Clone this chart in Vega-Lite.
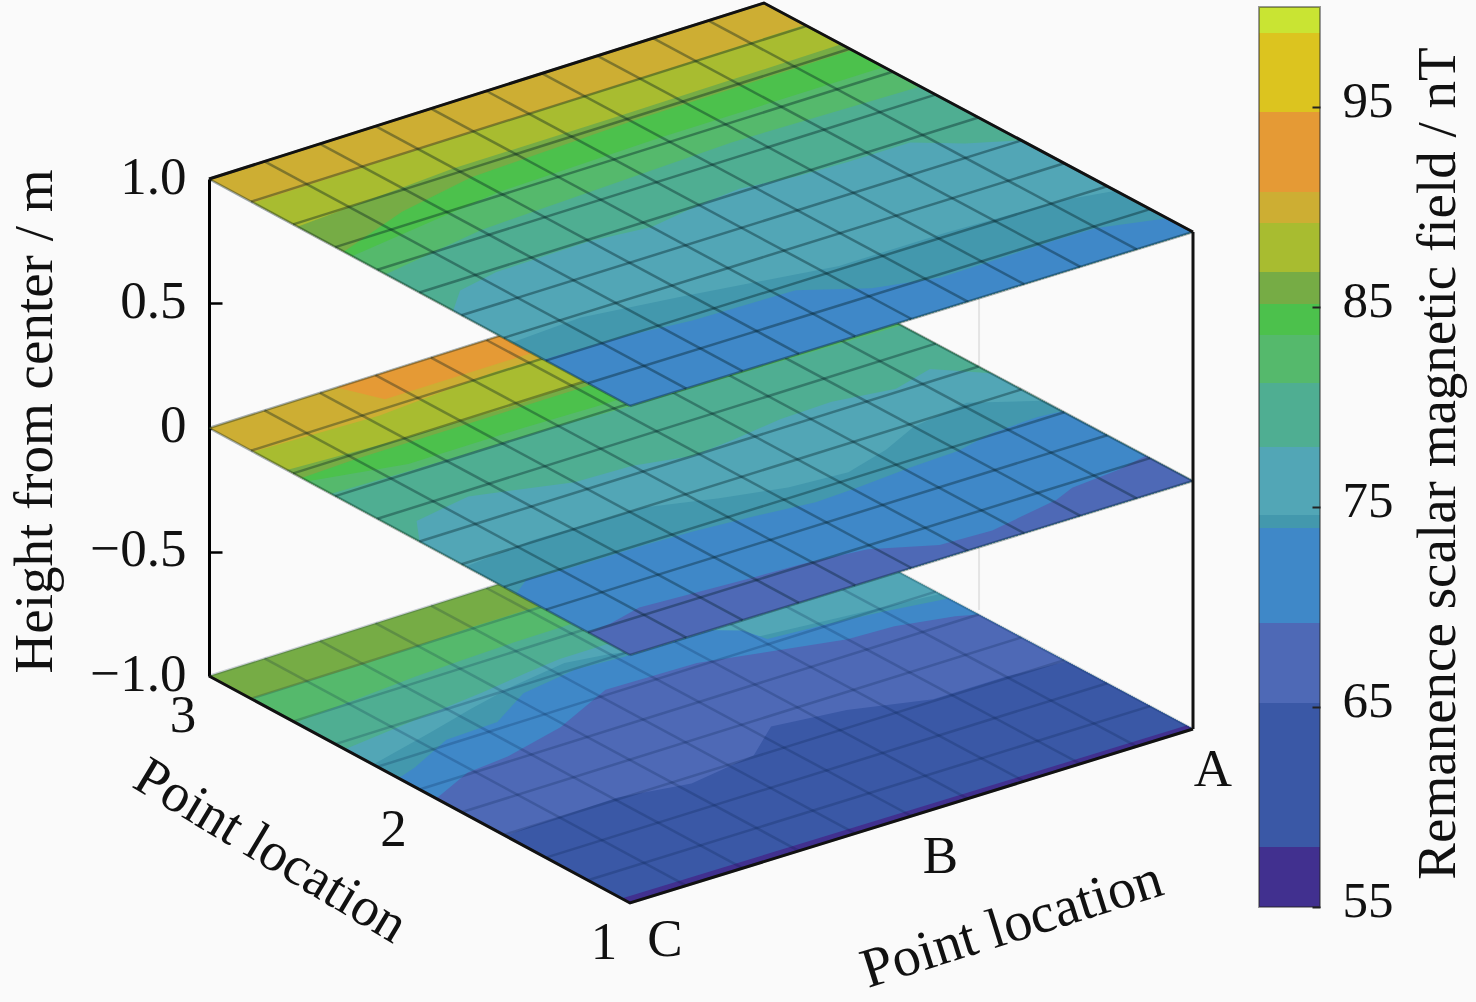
{"$schema":"https://vega.github.io/schema/vega-lite/v6.json","width":1476,"height":1002,"padding":0,"autosize":{"type":"none"},"background":"#fafafa","config":{"view":{"stroke":null},"font":"Liberation Serif"},
"datasets":{"rows":[
{"k":"f","p":"f","i":0,"a":10,"b":6.2,"d":0},{"k":"f","p":"f","i":1,"a":10,"b":6.2,"d":312},
{"k":"p","h":-1,"p":"b00","i":0,"a":0,"b":0,"v":86},{"k":"p","h":-1,"p":"b00","i":1,"a":0,"b":10,"v":86},{"k":"p","h":-1,"p":"b00","i":2,"a":10,"b":10,"v":86},{"k":"p","h":-1,"p":"b00","i":3,"a":10,"b":0,"v":86},
{"k":"p","h":-1,"p":"b01","i":0,"a":1,"b":0,"v":82},{"k":"p","h":-1,"p":"b01","i":1,"a":1.03,"b":2.1,"v":82},{"k":"p","h":-1,"p":"b01","i":2,"a":0.95,"b":4,"v":82},{"k":"p","h":-1,"p":"b01","i":3,"a":1,"b":10,"v":82},{"k":"p","h":-1,"p":"b01","i":4,"a":10,"b":10,"v":82},{"k":"p","h":-1,"p":"b01","i":5,"a":10,"b":0,"v":82},
{"k":"p","h":-1,"p":"b02","i":0,"a":2.05,"b":0,"v":80},{"k":"p","h":-1,"p":"b02","i":1,"a":1.83,"b":2.33,"v":80},{"k":"p","h":-1,"p":"b02","i":2,"a":1.78,"b":3.25,"v":80},{"k":"p","h":-1,"p":"b02","i":3,"a":1.74,"b":4.17,"v":80},{"k":"p","h":-1,"p":"b02","i":4,"a":1.7,"b":10,"v":80},{"k":"p","h":-1,"p":"b02","i":5,"a":10,"b":10,"v":80},{"k":"p","h":-1,"p":"b02","i":6,"a":10,"b":0,"v":80},
{"k":"p","h":-1,"p":"b03","i":0,"a":3.23,"b":0,"v":76},{"k":"p","h":-1,"p":"b03","i":1,"a":2.98,"b":1.75,"v":76},{"k":"p","h":-1,"p":"b03","i":2,"a":2.85,"b":2.74,"v":76},{"k":"p","h":-1,"p":"b03","i":3,"a":2.69,"b":3.69,"v":76},{"k":"p","h":-1,"p":"b03","i":4,"a":2.6,"b":4.33,"v":76},{"k":"p","h":-1,"p":"b03","i":5,"a":2.6,"b":10,"v":76},{"k":"p","h":-1,"p":"b03","i":6,"a":10,"b":10,"v":76},{"k":"p","h":-1,"p":"b03","i":7,"a":10,"b":0,"v":76},
{"k":"p","h":-1,"p":"b04","i":0,"a":3.9,"b":0,"v":74.3},{"k":"p","h":-1,"p":"b04","i":1,"a":3.5,"b":1.35,"v":74.3},{"k":"p","h":-1,"p":"b04","i":2,"a":3.2,"b":2.3,"v":74.3},{"k":"p","h":-1,"p":"b04","i":3,"a":2.95,"b":3.2,"v":74.3},{"k":"p","h":-1,"p":"b04","i":4,"a":2.75,"b":4.3,"v":74.3},{"k":"p","h":-1,"p":"b04","i":5,"a":2.9,"b":5,"v":74.3},{"k":"p","h":-1,"p":"b04","i":6,"a":3.7,"b":7,"v":74.3},{"k":"p","h":-1,"p":"b04","i":7,"a":4.1,"b":10,"v":74.3},{"k":"p","h":-1,"p":"b04","i":8,"a":10,"b":10,"v":74.3},{"k":"p","h":-1,"p":"b04","i":9,"a":10,"b":0,"v":74.3},
{"k":"p","h":-1,"p":"b05","i":0,"a":4.5,"b":0,"v":72},{"k":"p","h":-1,"p":"b05","i":1,"a":4.35,"b":0.4,"v":72},{"k":"p","h":-1,"p":"b05","i":2,"a":3.85,"b":1.35,"v":72},{"k":"p","h":-1,"p":"b05","i":3,"a":3.8,"b":2.3,"v":72},{"k":"p","h":-1,"p":"b05","i":4,"a":3.23,"b":3.2,"v":72},{"k":"p","h":-1,"p":"b05","i":5,"a":3.02,"b":4.3,"v":72},{"k":"p","h":-1,"p":"b05","i":6,"a":3.1,"b":5.1,"v":72},{"k":"p","h":-1,"p":"b05","i":7,"a":3,"b":6.5,"v":72},{"k":"p","h":-1,"p":"b05","i":8,"a":3.4,"b":7,"v":72},{"k":"p","h":-1,"p":"b05","i":9,"a":3.85,"b":7.1,"v":72},{"k":"p","h":-1,"p":"b05","i":10,"a":3.95,"b":8,"v":72},{"k":"p","h":-1,"p":"b05","i":11,"a":4.1,"b":9,"v":72},{"k":"p","h":-1,"p":"b05","i":12,"a":4.3,"b":10,"v":72},{"k":"p","h":-1,"p":"b05","i":13,"a":10,"b":10,"v":72},{"k":"p","h":-1,"p":"b05","i":14,"a":10,"b":0,"v":72},
{"k":"p","h":-1,"p":"b06","i":0,"a":5.4,"b":0,"v":67},{"k":"p","h":-1,"p":"b06","i":1,"a":4.95,"b":0.9,"v":67},{"k":"p","h":-1,"p":"b06","i":2,"a":4.85,"b":1.7,"v":67},{"k":"p","h":-1,"p":"b06","i":3,"a":4.5,"b":2.9,"v":67},{"k":"p","h":-1,"p":"b06","i":4,"a":3.85,"b":4.2,"v":67},{"k":"p","h":-1,"p":"b06","i":5,"a":3.9,"b":5.8,"v":67},{"k":"p","h":-1,"p":"b06","i":6,"a":4.2,"b":6.8,"v":67},{"k":"p","h":-1,"p":"b06","i":7,"a":4.55,"b":8,"v":67},{"k":"p","h":-1,"p":"b06","i":8,"a":4.6,"b":8.8,"v":67},{"k":"p","h":-1,"p":"b06","i":9,"a":4.85,"b":9.7,"v":67},{"k":"p","h":-1,"p":"b06","i":10,"a":5,"b":10,"v":67},{"k":"p","h":-1,"p":"b06","i":11,"a":10,"b":10,"v":67},{"k":"p","h":-1,"p":"b06","i":12,"a":10,"b":0,"v":67},
{"k":"p","h":-1,"p":"b07","i":0,"a":7.05,"b":0,"v":62},{"k":"p","h":-1,"p":"b07","i":1,"a":7,"b":0.44,"v":62},{"k":"p","h":-1,"p":"b07","i":2,"a":6.95,"b":2.07,"v":62},{"k":"p","h":-1,"p":"b07","i":3,"a":7.2,"b":3.2,"v":62},{"k":"p","h":-1,"p":"b07","i":4,"a":6.95,"b":4.5,"v":62},{"k":"p","h":-1,"p":"b07","i":5,"a":6.3,"b":5.3,"v":62},{"k":"p","h":-1,"p":"b07","i":6,"a":6.5,"b":6.5,"v":62},{"k":"p","h":-1,"p":"b07","i":7,"a":6.95,"b":7.7,"v":62},{"k":"p","h":-1,"p":"b07","i":8,"a":6.95,"b":9,"v":62},{"k":"p","h":-1,"p":"b07","i":9,"a":7.05,"b":10,"v":62},{"k":"p","h":-1,"p":"b07","i":10,"a":10,"b":10,"v":62},{"k":"p","h":-1,"p":"b07","i":11,"a":10,"b":0,"v":62},
{"k":"p","h":-1,"p":"b08","i":0,"a":9.8,"b":0,"v":56},{"k":"p","h":-1,"p":"b08","i":1,"a":9.85,"b":10,"v":56},{"k":"p","h":-1,"p":"b08","i":2,"a":10,"b":10,"v":56},{"k":"p","h":-1,"p":"b08","i":3,"a":10,"b":0,"v":56},
{"k":"p","h":0,"p":"m00","i":0,"a":0,"b":0,"v":90},{"k":"p","h":0,"p":"m00","i":1,"a":0,"b":10,"v":90},{"k":"p","h":0,"p":"m00","i":2,"a":10,"b":10,"v":90},{"k":"p","h":0,"p":"m00","i":3,"a":10,"b":0,"v":90},
{"k":"p","h":0,"p":"m01","i":0,"a":0,"b":2.3,"v":93},{"k":"p","h":0,"p":"m01","i":1,"a":0.75,"b":2.6,"v":93},{"k":"p","h":0,"p":"m01","i":2,"a":0.75,"b":7,"v":93},{"k":"p","h":0,"p":"m01","i":3,"a":0,"b":7,"v":93},
{"k":"p","h":0,"p":"m02","i":0,"a":1.05,"b":0,"v":88},{"k":"p","h":0,"p":"m02","i":1,"a":1.15,"b":2.2,"v":88},{"k":"p","h":0,"p":"m02","i":2,"a":0.95,"b":4.4,"v":88},{"k":"p","h":0,"p":"m02","i":3,"a":1,"b":6,"v":88},{"k":"p","h":0,"p":"m02","i":4,"a":1,"b":10,"v":88},{"k":"p","h":0,"p":"m02","i":5,"a":10,"b":10,"v":88},{"k":"p","h":0,"p":"m02","i":6,"a":10,"b":0,"v":88},
{"k":"p","h":0,"p":"m03","i":0,"a":1.85,"b":0,"v":86},{"k":"p","h":0,"p":"m03","i":1,"a":2,"b":2,"v":86},{"k":"p","h":0,"p":"m03","i":2,"a":2.05,"b":4,"v":86},{"k":"p","h":0,"p":"m03","i":3,"a":2,"b":6,"v":86},{"k":"p","h":0,"p":"m03","i":4,"a":2,"b":10,"v":86},{"k":"p","h":0,"p":"m03","i":5,"a":10,"b":10,"v":86},{"k":"p","h":0,"p":"m03","i":6,"a":10,"b":0,"v":86},
{"k":"p","h":0,"p":"m04","i":0,"a":2.2,"b":0,"v":84.4},{"k":"p","h":0,"p":"m04","i":1,"a":2.15,"b":1,"v":84.4},{"k":"p","h":0,"p":"m04","i":2,"a":2.15,"b":3,"v":84.4},{"k":"p","h":0,"p":"m04","i":3,"a":2.15,"b":5,"v":84.4},{"k":"p","h":0,"p":"m04","i":4,"a":2.1,"b":10,"v":84.4},{"k":"p","h":0,"p":"m04","i":5,"a":10,"b":10,"v":84.4},{"k":"p","h":0,"p":"m04","i":6,"a":10,"b":0,"v":84.4},
{"k":"p","h":0,"p":"m05","i":0,"a":2.35,"b":0,"v":82},{"k":"p","h":0,"p":"m05","i":1,"a":2.75,"b":1.5,"v":82},{"k":"p","h":0,"p":"m05","i":2,"a":2.75,"b":3.5,"v":82},{"k":"p","h":0,"p":"m05","i":3,"a":2.8,"b":5,"v":82},{"k":"p","h":0,"p":"m05","i":4,"a":2.7,"b":10,"v":82},{"k":"p","h":0,"p":"m05","i":5,"a":10,"b":10,"v":82},{"k":"p","h":0,"p":"m05","i":6,"a":10,"b":0,"v":82},
{"k":"p","h":0,"p":"m06","i":0,"a":2.9,"b":0,"v":80},{"k":"p","h":0,"p":"m06","i":1,"a":2.95,"b":1.5,"v":80},{"k":"p","h":0,"p":"m06","i":2,"a":3,"b":4,"v":80},{"k":"p","h":0,"p":"m06","i":3,"a":3.1,"b":5.5,"v":80},{"k":"p","h":0,"p":"m06","i":4,"a":3.2,"b":10,"v":80},{"k":"p","h":0,"p":"m06","i":5,"a":10,"b":10,"v":80},{"k":"p","h":0,"p":"m06","i":6,"a":10,"b":0,"v":80},
{"k":"p","h":0,"p":"m07","i":0,"a":5,"b":0,"v":76},{"k":"p","h":0,"p":"m07","i":1,"a":4.4,"b":0.4,"v":76},{"k":"p","h":0,"p":"m07","i":2,"a":4.17,"b":1.5,"v":76},{"k":"p","h":0,"p":"m07","i":3,"a":4.7,"b":3,"v":76},{"k":"p","h":0,"p":"m07","i":4,"a":4.75,"b":4,"v":76},{"k":"p","h":0,"p":"m07","i":5,"a":5,"b":4.9,"v":76},{"k":"p","h":0,"p":"m07","i":6,"a":4.9,"b":5.7,"v":76},{"k":"p","h":0,"p":"m07","i":7,"a":4.74,"b":6.65,"v":76},{"k":"p","h":0,"p":"m07","i":8,"a":4.7,"b":7.6,"v":76},{"k":"p","h":0,"p":"m07","i":9,"a":4.9,"b":8.6,"v":76},{"k":"p","h":0,"p":"m07","i":10,"a":4.65,"b":9.4,"v":76},{"k":"p","h":0,"p":"m07","i":11,"a":5.3,"b":10,"v":76},{"k":"p","h":0,"p":"m07","i":12,"a":10,"b":10,"v":76},{"k":"p","h":0,"p":"m07","i":13,"a":10,"b":0,"v":76},
{"k":"p","h":0,"p":"m08","i":0,"a":6.1,"b":0,"v":74.3},{"k":"p","h":0,"p":"m08","i":1,"a":5.95,"b":1.3,"v":74.3},{"k":"p","h":0,"p":"m08","i":2,"a":6,"b":3.25,"v":74.3},{"k":"p","h":0,"p":"m08","i":3,"a":6.4,"b":4.3,"v":74.3},{"k":"p","h":0,"p":"m08","i":4,"a":6.7,"b":5.3,"v":74.3},{"k":"p","h":0,"p":"m08","i":5,"a":6.8,"b":6.3,"v":74.3},{"k":"p","h":0,"p":"m08","i":6,"a":6.5,"b":7.2,"v":74.3},{"k":"p","h":0,"p":"m08","i":7,"a":6.1,"b":8,"v":74.3},{"k":"p","h":0,"p":"m08","i":8,"a":5.9,"b":9.1,"v":74.3},{"k":"p","h":0,"p":"m08","i":9,"a":6.5,"b":10,"v":74.3},{"k":"p","h":0,"p":"m08","i":10,"a":10,"b":10,"v":74.3},{"k":"p","h":0,"p":"m08","i":11,"a":10,"b":0,"v":74.3},
{"k":"p","h":0,"p":"m09","i":0,"a":7.3,"b":0,"v":72},{"k":"p","h":0,"p":"m09","i":1,"a":7,"b":0.4,"v":72},{"k":"p","h":0,"p":"m09","i":2,"a":7.05,"b":1.2,"v":72},{"k":"p","h":0,"p":"m09","i":3,"a":7.05,"b":2.4,"v":72},{"k":"p","h":0,"p":"m09","i":4,"a":7.1,"b":3.3,"v":72},{"k":"p","h":0,"p":"m09","i":5,"a":7.2,"b":4.3,"v":72},{"k":"p","h":0,"p":"m09","i":6,"a":7.35,"b":5.3,"v":72},{"k":"p","h":0,"p":"m09","i":7,"a":7.3,"b":6.1,"v":72},{"k":"p","h":0,"p":"m09","i":8,"a":7.2,"b":7.1,"v":72},{"k":"p","h":0,"p":"m09","i":9,"a":7.15,"b":8,"v":72},{"k":"p","h":0,"p":"m09","i":10,"a":6.95,"b":8.75,"v":72},{"k":"p","h":0,"p":"m09","i":11,"a":6.9,"b":9.6,"v":72},{"k":"p","h":0,"p":"m09","i":12,"a":6.95,"b":10,"v":72},{"k":"p","h":0,"p":"m09","i":13,"a":10,"b":10,"v":72},{"k":"p","h":0,"p":"m09","i":14,"a":10,"b":0,"v":72},
{"k":"p","h":0,"p":"m10","i":0,"a":9,"b":0,"v":67},{"k":"p","h":0,"p":"m10","i":1,"a":8.95,"b":0.44,"v":67},{"k":"p","h":0,"p":"m10","i":2,"a":8.75,"b":1.1,"v":67},{"k":"p","h":0,"p":"m10","i":3,"a":8.9,"b":3,"v":67},{"k":"p","h":0,"p":"m10","i":4,"a":8.95,"b":3.85,"v":67},{"k":"p","h":0,"p":"m10","i":5,"a":9.1,"b":4.9,"v":67},{"k":"p","h":0,"p":"m10","i":6,"a":9.6,"b":5.8,"v":67},{"k":"p","h":0,"p":"m10","i":7,"a":9.65,"b":6.7,"v":67},{"k":"p","h":0,"p":"m10","i":8,"a":9.35,"b":8.07,"v":67},{"k":"p","h":0,"p":"m10","i":9,"a":9.15,"b":8.5,"v":67},{"k":"p","h":0,"p":"m10","i":10,"a":9.05,"b":9.4,"v":67},{"k":"p","h":0,"p":"m10","i":11,"a":8.9,"b":10,"v":67},{"k":"p","h":0,"p":"m10","i":12,"a":10,"b":10,"v":67},{"k":"p","h":0,"p":"m10","i":13,"a":10,"b":0,"v":67},
{"k":"p","h":1,"p":"t00","i":0,"a":0,"b":0,"v":90},{"k":"p","h":1,"p":"t00","i":1,"a":0,"b":10,"v":90},{"k":"p","h":1,"p":"t00","i":2,"a":10,"b":10,"v":90},{"k":"p","h":1,"p":"t00","i":3,"a":10,"b":0,"v":90},
{"k":"p","h":1,"p":"t01","i":0,"a":1.05,"b":0,"v":88},{"k":"p","h":1,"p":"t01","i":1,"a":1,"b":5,"v":88},{"k":"p","h":1,"p":"t01","i":2,"a":0.95,"b":10,"v":88},{"k":"p","h":1,"p":"t01","i":3,"a":10,"b":10,"v":88},{"k":"p","h":1,"p":"t01","i":4,"a":10,"b":0,"v":88},
{"k":"p","h":1,"p":"t02","i":0,"a":2.1,"b":0,"v":86},{"k":"p","h":1,"p":"t02","i":1,"a":1.85,"b":3,"v":86},{"k":"p","h":1,"p":"t02","i":2,"a":1.85,"b":6,"v":86},{"k":"p","h":1,"p":"t02","i":3,"a":1.8,"b":10,"v":86},{"k":"p","h":1,"p":"t02","i":4,"a":10,"b":10,"v":86},{"k":"p","h":1,"p":"t02","i":5,"a":10,"b":0,"v":86},
{"k":"p","h":1,"p":"t03","i":0,"a":3.2,"b":0,"v":84.4},{"k":"p","h":1,"p":"t03","i":1,"a":2.6,"b":1.5,"v":84.4},{"k":"p","h":1,"p":"t03","i":2,"a":2.25,"b":3,"v":84.4},{"k":"p","h":1,"p":"t03","i":3,"a":2.1,"b":6,"v":84.4},{"k":"p","h":1,"p":"t03","i":4,"a":2.05,"b":10,"v":84.4},{"k":"p","h":1,"p":"t03","i":5,"a":10,"b":10,"v":84.4},{"k":"p","h":1,"p":"t03","i":6,"a":10,"b":0,"v":84.4},
{"k":"p","h":1,"p":"t04","i":0,"a":3.4,"b":0,"v":82},{"k":"p","h":1,"p":"t04","i":1,"a":2.9,"b":3,"v":82},{"k":"p","h":1,"p":"t04","i":2,"a":2.8,"b":6,"v":82},{"k":"p","h":1,"p":"t04","i":3,"a":2.8,"b":10,"v":82},{"k":"p","h":1,"p":"t04","i":4,"a":10,"b":10,"v":82},{"k":"p","h":1,"p":"t04","i":5,"a":10,"b":0,"v":82},
{"k":"p","h":1,"p":"t05","i":0,"a":4.2,"b":0,"v":80},{"k":"p","h":1,"p":"t05","i":1,"a":3.8,"b":2,"v":80},{"k":"p","h":1,"p":"t05","i":2,"a":3.7,"b":3.8,"v":80},{"k":"p","h":1,"p":"t05","i":3,"a":3.55,"b":6.7,"v":80},{"k":"p","h":1,"p":"t05","i":4,"a":3.65,"b":10,"v":80},{"k":"p","h":1,"p":"t05","i":5,"a":10,"b":10,"v":80},{"k":"p","h":1,"p":"t05","i":6,"a":10,"b":0,"v":80},
{"k":"p","h":1,"p":"t06","i":0,"a":5.8,"b":0,"v":76},{"k":"p","h":1,"p":"t06","i":1,"a":5.3,"b":0.5,"v":76},{"k":"p","h":1,"p":"t06","i":2,"a":5.1,"b":1.3,"v":76},{"k":"p","h":1,"p":"t06","i":3,"a":5.05,"b":3,"v":76},{"k":"p","h":1,"p":"t06","i":4,"a":5.2,"b":4,"v":76},{"k":"p","h":1,"p":"t06","i":5,"a":5,"b":5,"v":76},{"k":"p","h":1,"p":"t06","i":6,"a":4.9,"b":5.8,"v":76},{"k":"p","h":1,"p":"t06","i":7,"a":5.05,"b":6.7,"v":76},{"k":"p","h":1,"p":"t06","i":8,"a":5.1,"b":7.6,"v":76},{"k":"p","h":1,"p":"t06","i":9,"a":5.1,"b":8.7,"v":76},{"k":"p","h":1,"p":"t06","i":10,"a":5.6,"b":9.3,"v":76},{"k":"p","h":1,"p":"t06","i":11,"a":6,"b":10,"v":76},{"k":"p","h":1,"p":"t06","i":12,"a":10,"b":10,"v":76},{"k":"p","h":1,"p":"t06","i":13,"a":10,"b":0,"v":76},
{"k":"p","h":1,"p":"t07","i":0,"a":7.2,"b":0,"v":74.3},{"k":"p","h":1,"p":"t07","i":1,"a":7.1,"b":1.3,"v":74.3},{"k":"p","h":1,"p":"t07","i":2,"a":7.4,"b":2.9,"v":74.3},{"k":"p","h":1,"p":"t07","i":3,"a":7.9,"b":5.3,"v":74.3},{"k":"p","h":1,"p":"t07","i":4,"a":7.9,"b":7.2,"v":74.3},{"k":"p","h":1,"p":"t07","i":5,"a":8,"b":9.2,"v":74.3},{"k":"p","h":1,"p":"t07","i":6,"a":8.2,"b":10,"v":74.3},{"k":"p","h":1,"p":"t07","i":7,"a":10,"b":10,"v":74.3},{"k":"p","h":1,"p":"t07","i":8,"a":10,"b":0,"v":74.3},
{"k":"p","h":1,"p":"t08","i":0,"a":7.95,"b":0,"v":72},{"k":"p","h":1,"p":"t08","i":1,"a":8,"b":1.4,"v":72},{"k":"p","h":1,"p":"t08","i":2,"a":8.15,"b":2.5,"v":72},{"k":"p","h":1,"p":"t08","i":3,"a":8.2,"b":4.3,"v":72},{"k":"p","h":1,"p":"t08","i":4,"a":8.8,"b":5.2,"v":72},{"k":"p","h":1,"p":"t08","i":5,"a":9.1,"b":6.2,"v":72},{"k":"p","h":1,"p":"t08","i":6,"a":9.05,"b":8.3,"v":72},{"k":"p","h":1,"p":"t08","i":7,"a":9.06,"b":9,"v":72},{"k":"p","h":1,"p":"t08","i":8,"a":9.4,"b":10,"v":72},{"k":"p","h":1,"p":"t08","i":9,"a":10,"b":10,"v":72},{"k":"p","h":1,"p":"t08","i":10,"a":10,"b":0,"v":72},
{"k":"g","p":"a0","i":0,"a":0,"b":0},{"k":"g","p":"a0","i":1,"a":0,"b":10},{"k":"g","p":"a1","i":0,"a":1,"b":0},{"k":"g","p":"a1","i":1,"a":1,"b":10},{"k":"g","p":"a2","i":0,"a":2,"b":0},{"k":"g","p":"a2","i":1,"a":2,"b":10},{"k":"g","p":"a3","i":0,"a":3,"b":0},{"k":"g","p":"a3","i":1,"a":3,"b":10},{"k":"g","p":"a4","i":0,"a":4,"b":0},{"k":"g","p":"a4","i":1,"a":4,"b":10},{"k":"g","p":"a5","i":0,"a":5,"b":0},{"k":"g","p":"a5","i":1,"a":5,"b":10},{"k":"g","p":"a6","i":0,"a":6,"b":0},{"k":"g","p":"a6","i":1,"a":6,"b":10},{"k":"g","p":"a7","i":0,"a":7,"b":0},{"k":"g","p":"a7","i":1,"a":7,"b":10},{"k":"g","p":"a8","i":0,"a":8,"b":0},{"k":"g","p":"a8","i":1,"a":8,"b":10},{"k":"g","p":"a9","i":0,"a":9,"b":0},{"k":"g","p":"a9","i":1,"a":9,"b":10},{"k":"g","p":"a10","i":0,"a":10,"b":0},{"k":"g","p":"a10","i":1,"a":10,"b":10},
{"k":"g","p":"b0","i":0,"a":0,"b":0},{"k":"g","p":"b0","i":1,"a":10,"b":0},{"k":"g","p":"b1","i":0,"a":0,"b":1},{"k":"g","p":"b1","i":1,"a":10,"b":1},{"k":"g","p":"b2","i":0,"a":0,"b":2},{"k":"g","p":"b2","i":1,"a":10,"b":2},{"k":"g","p":"b3","i":0,"a":0,"b":3},{"k":"g","p":"b3","i":1,"a":10,"b":3},{"k":"g","p":"b4","i":0,"a":0,"b":4},{"k":"g","p":"b4","i":1,"a":10,"b":4},{"k":"g","p":"b5","i":0,"a":0,"b":5},{"k":"g","p":"b5","i":1,"a":10,"b":5},{"k":"g","p":"b6","i":0,"a":0,"b":6},{"k":"g","p":"b6","i":1,"a":10,"b":6},{"k":"g","p":"b7","i":0,"a":0,"b":7},{"k":"g","p":"b7","i":1,"a":10,"b":7},{"k":"g","p":"b8","i":0,"a":0,"b":8},{"k":"g","p":"b8","i":1,"a":10,"b":8},{"k":"g","p":"b9","i":0,"a":0,"b":9},{"k":"g","p":"b9","i":1,"a":10,"b":9},{"k":"g","p":"b10","i":0,"a":0,"b":10},{"k":"g","p":"b10","i":1,"a":10,"b":10},
{"k":"e","p":"top","i":0,"a":0,"b":0,"d":0},{"k":"e","p":"top","i":1,"a":0,"b":10,"d":0},{"k":"e","p":"top","i":2,"a":10,"b":10,"d":0},
{"k":"e","p":"bot","i":0,"a":0,"b":0,"d":497},{"k":"e","p":"bot","i":1,"a":10,"b":0,"d":497},{"k":"e","p":"bot","i":2,"a":10,"b":10,"d":497},
{"k":"e","p":"right","i":0,"a":10,"b":10,"d":0},{"k":"e","p":"right","i":1,"a":10,"b":10,"d":497},
{"k":"l3","a":0,"b":0,"d":497,"t":"3"},{"k":"l3","a":5,"b":0,"d":497,"t":"2"},{"k":"l3","a":10,"b":0,"d":497,"t":"1"},
{"k":"lc","a":10,"b":0,"d":497,"t":"C"},{"k":"lb","a":10,"b":5,"d":497,"t":"B"},{"k":"la","a":10,"b":10,"d":497,"t":"A"},
{"k":"tl","a":5,"b":0,"d":497,"t":"Point location"},{"k":"tr","a":10,"b":5,"d":497,"t":"Point location"}
],
"bands":[{"lo":55,"hi":58},{"lo":58,"hi":65.2},{"lo":65.2,"hi":69.2},{"lo":69.2,"hi":73.95},{"lo":73.95,"hi":74.6},{"lo":74.6,"hi":78},{"lo":78,"hi":81.2},{"lo":81.2,"hi":83.6},{"lo":83.6,"hi":85.15},{"lo":85.15,"hi":86.75},{"lo":86.75,"hi":89.2},{"lo":89.2,"hi":90.75},{"lo":90.75,"hi":94.75},{"lo":94.75,"hi":98.7},{"lo":98.7,"hi":100}]},
"layer":[
{"data":{"values":[{"h":-1},{"h":1}]},"mark":{"type":"point","opacity":0},
"encoding":{"y":{"field":"h","type":"quantitative","scale":{"domain":[-1,1],"range":[676,179],"nice":false,"zero":false},
"axis":{"orient":"left","offset":-209,"values":[-1,-0.5,0,0.5,1],"format":".1f","labelExpr":"datum.value==0?'0':datum.label","grid":false,"domainColor":"#000","domainWidth":3,"tickColor":"#000","tickWidth":2.5,"tickSize":-13,"labelFont":"Liberation Serif","labelFontSize":53,"labelColor":"#111","labelPadding":36,"labelOffset":-2,"title":"Height from center / m","titleFont":"Liberation Serif","titleFontSize":55,"titleFontWeight":"normal","titleColor":"#111","titleX":-146,"titleY":421,"titleAngle":270}}}},
{"data":{"name":"rows"},
"transform":[{"calculate":"(1-datum.a/10)*(1-datum.b/10)*209+(datum.a/10)*(1-datum.b/10)*630+(datum.a/10)*(datum.b/10)*1193+(1-datum.a/10)*(datum.b/10)*764","as":"X"},{"calculate":"(1-datum.a/10)*(1-datum.b/10)*179+(datum.a/10)*(1-datum.b/10)*406+(datum.a/10)*(datum.b/10)*232+(1-datum.a/10)*(datum.b/10)*3","as":"Y0"}],
"encoding":{"x":{"field":"X","type":"quantitative","scale":{"domain":[0,1476],"range":[0,1476],"nice":false,"zero":false},"axis":null},"y":{"field":"Y","type":"quantitative","scale":{"domain":[0,1002],"range":[0,1002],"nice":false,"zero":false},"axis":null}},
"layer":[
{"transform":[{"filter":"datum.k=='f'"},{"calculate":"datum.Y0+datum.d","as":"Y"}],"mark":{"type":"line","stroke":"#e4e4e4","strokeWidth":2},"encoding":{"order":{"field":"i"},"detail":{"field":"p"}}},
{"transform":[{"filter":"datum.k=='p'&&datum.h==-1"},{"calculate":"datum.Y0+497","as":"Y"}],"mark":{"type":"line","interpolate":"linear-closed","strokeWidth":0},"encoding":{"order":{"field":"i"},"detail":{"field":"p"},"fill":{"field":"v","type":"quantitative","legend":null,"scale":{"type":"threshold","domain":[58,65.2,69.2,73.95,74.6,78,81.2,83.6,85.15,86.75,89.2,90.75,94.75,98.7],"range":["#41308f","#3a58a6","#4e69b6","#3f88c8","#4398ad","#52a6b6","#4fae92","#55b96c","#4cc14c","#76ac45","#a8bc30","#cdae33","#e59a35","#dcc41f","#c9e433"]}}}},
{"transform":[{"filter":"datum.k=='g'"},{"calculate":"datum.Y0+497","as":"Y"}],"mark":{"type":"line","stroke":"#001a40","strokeWidth":2.5,"opacity":0.2},"encoding":{"order":{"field":"i"},"detail":{"field":"p"}}},
{"transform":[{"filter":"datum.k=='p'&&datum.h==0"},{"calculate":"datum.Y0+249","as":"Y"}],"mark":{"type":"line","interpolate":"linear-closed","strokeWidth":0},"encoding":{"order":{"field":"i"},"detail":{"field":"p"},"fill":{"field":"v","type":"quantitative","legend":null,"scale":{"type":"threshold","domain":[58,65.2,69.2,73.95,74.6,78,81.2,83.6,85.15,86.75,89.2,90.75,94.75,98.7],"range":["#41308f","#3a58a6","#4e69b6","#3f88c8","#4398ad","#52a6b6","#4fae92","#55b96c","#4cc14c","#76ac45","#a8bc30","#cdae33","#e59a35","#dcc41f","#c9e433"]}}}},
{"transform":[{"filter":"datum.k=='g'"},{"calculate":"datum.Y0+249","as":"Y"}],"mark":{"type":"line","stroke":"#001a20","strokeWidth":2.5,"opacity":0.35},"encoding":{"order":{"field":"i"},"detail":{"field":"p"}}},
{"transform":[{"filter":"datum.k=='p'&&datum.h==1"},{"calculate":"datum.Y0","as":"Y"}],"mark":{"type":"line","interpolate":"linear-closed","strokeWidth":0},"encoding":{"order":{"field":"i"},"detail":{"field":"p"},"fill":{"field":"v","type":"quantitative","legend":null,"scale":{"type":"threshold","domain":[58,65.2,69.2,73.95,74.6,78,81.2,83.6,85.15,86.75,89.2,90.75,94.75,98.7],"range":["#41308f","#3a58a6","#4e69b6","#3f88c8","#4398ad","#52a6b6","#4fae92","#55b96c","#4cc14c","#76ac45","#a8bc30","#cdae33","#e59a35","#dcc41f","#c9e433"]}}}},
{"transform":[{"filter":"datum.k=='g'"},{"calculate":"datum.Y0","as":"Y"}],"mark":{"type":"line","stroke":"#001a20","strokeWidth":2.5,"opacity":0.38},"encoding":{"order":{"field":"i"},"detail":{"field":"p"}}},
{"transform":[{"filter":"datum.k=='e'"},{"calculate":"datum.Y0+datum.d","as":"Y"}],"mark":{"type":"line","stroke":"#111","strokeWidth":3},"encoding":{"order":{"field":"i"},"detail":{"field":"p"}}},
{"transform":[{"filter":"datum.k=='l3'"},{"calculate":"datum.Y0+datum.d","as":"Y"}],"mark":{"type":"text","font":"Liberation Serif","fontSize":53,"color":"#111","dx":-26,"dy":40},"encoding":{"text":{"field":"t"}}},
{"transform":[{"filter":"datum.k=='lc'"},{"calculate":"datum.Y0+datum.d","as":"Y"}],"mark":{"type":"text","font":"Liberation Serif","fontSize":53,"color":"#111","dx":35,"dy":37},"encoding":{"text":{"field":"t"}}},
{"transform":[{"filter":"datum.k=='lb'"},{"calculate":"datum.Y0+datum.d","as":"Y"}],"mark":{"type":"text","font":"Liberation Serif","fontSize":53,"color":"#111","dx":29,"dy":41},"encoding":{"text":{"field":"t"}}},
{"transform":[{"filter":"datum.k=='la'"},{"calculate":"datum.Y0+datum.d","as":"Y"}],"mark":{"type":"text","font":"Liberation Serif","fontSize":53,"color":"#111","dx":20,"dy":41},"encoding":{"text":{"field":"t"}}},
{"transform":[{"filter":"datum.k=='tl'"},{"calculate":"datum.Y0+datum.d","as":"Y"}],"mark":{"type":"text","font":"Liberation Serif","fontSize":55,"color":"#111","angle":31,"dx":-96,"dy":129},"encoding":{"text":{"field":"t"}}},
{"transform":[{"filter":"datum.k=='tr'"},{"calculate":"datum.Y0+datum.d","as":"Y"}],"mark":{"type":"text","font":"Liberation Serif","fontSize":56,"color":"#111","angle":-17.5,"dx":63,"dy":134},"encoding":{"text":{"field":"t"}}}
]},
{"data":{"name":"bands"},
"encoding":{"x":{"datum":0,"type":"quantitative","scale":{"domain":[0,1],"range":[1259,1320]},"axis":null},"x2":{"datum":1},
"y":{"field":"lo","type":"quantitative","scale":{"domain":[55,100],"range":[907,7],"nice":false,"zero":false},
"axis":{"orient":"right","offset":-156,"values":[55,65,75,85,95],"grid":false,"domain":false,"tickColor":"#222","tickWidth":2,"tickSize":-8,"labelFont":"Liberation Serif","labelFontSize":51,"labelColor":"#111","labelPadding":30,"labelOffset":-6,"zindex":1,"title":"Remanence scalar magnetic field / nT","titleFont":"Liberation Serif","titleFontSize":55,"titleFontWeight":"normal","titleColor":"#111","titleX":146,"titleY":463,"titleAngle":270}},
"y2":{"field":"hi"}},
"layer":[
{"mark":{"type":"rect"},"encoding":{"fill":{"field":"lo","type":"quantitative","legend":null,"scale":{"type":"threshold","domain":[58,65.2,69.2,73.95,74.6,78,81.2,83.6,85.15,86.75,89.2,90.75,94.75,98.7],"range":["#41308f","#3a58a6","#4e69b6","#3f88c8","#4398ad","#52a6b6","#4fae92","#55b96c","#4cc14c","#76ac45","#a8bc30","#cdae33","#e59a35","#dcc41f","#c9e433"]}}}},
{"data":{"values":[{"lo":55,"hi":100}]},"mark":{"type":"rect","fillOpacity":0,"stroke":"#222","strokeWidth":2,"strokeOpacity":0.45}}
]}
],
"resolve":{"scale":{"x":"independent","y":"independent"}}}
